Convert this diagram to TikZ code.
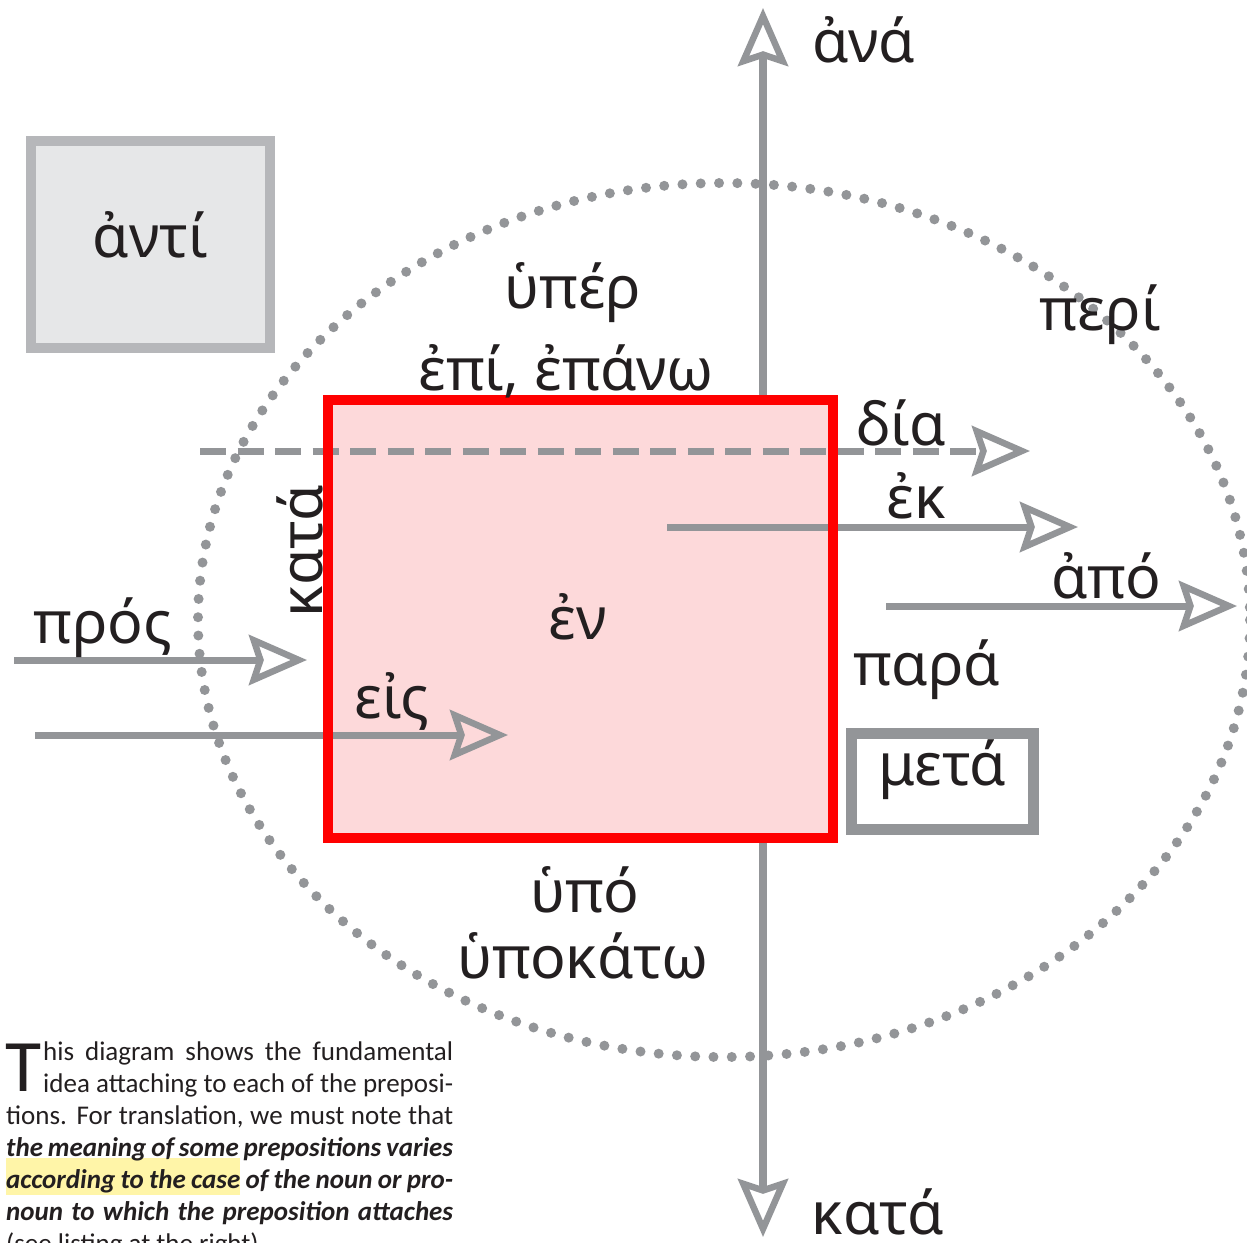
\documentclass[tikz,border=0pt]{standalone}
\usepackage{fontspec}
\setmainfont{Carlito}
\newfontfamily\greekfont{Noto Sans}
\usetikzlibrary{arrows.meta}

\definecolor{gry}{HTML}{939598}
\definecolor{boxedge}{HTML}{B6B7BA}
\definecolor{boxfill}{HTML}{E6E7E8}
\definecolor{pinkfill}{HTML}{FDD9DA}
\definecolor{inkred}{HTML}{FF0000}
\definecolor{ink}{HTML}{231F20}
\definecolor{hilite}{HTML}{FFF5A8}

\tikzset{
  opentip/.tip={Stealth[open, length=58pt, width=50pt, inset=8pt, line width=6.5pt]},
  axisline/.style={draw=gry, line width=7.5pt, {opentip}-{opentip}},
  arrowline/.style={draw=gry, line width=7pt, -{opentip}},
  dashline/.style={arrowline, dash pattern=on 26pt off 11.5pt},
  dotring/.style={draw=gry, line width=10pt, line cap=round, dash pattern=on 0pt off 18.3pt},
  greek/.style={font=\greekfont\fontsize{59}{64}\selectfont, text=ink, inner sep=0pt},
  body/.style={font=\fontsize{27}{32}\selectfont, text=ink, inner sep=0pt, anchor=base west},
  bodybi/.style={body, font=\fontsize{27}{32}\selectfont\bfseries\itshape},
}

\begin{document}
\begin{tikzpicture}[x=1pt, y=-1pt]
\useasboundingbox (0,0) rectangle (1247,1242);
\clip (0,0) rectangle (1247,1242);

% dotted ring
\draw[dotring] (724,620) ellipse [x radius=526, y radius=437];

% vertical axis: ana / kata
\coordinate (up) at (763,8);
\coordinate (down) at (763,1237);
\draw[axisline] (down) -- (up);

% the central square (fill first, border later)
\node[fill=pinkfill, minimum width=505pt, minimum height=438pt, inner sep=0pt] (sq) at (580.5,619) {};

% horizontal movements
\coordinate (diaS) at (200,451);  \coordinate (diaE) at (1030,451);
\coordinate (ekS) at (667,527);   \coordinate (ekE) at (1078,527);
\coordinate (apoS) at (886,606);  \coordinate (apoE) at (1237,606);
\coordinate (prosS) at (14,660);  \coordinate (prosE) at (307,660);
\coordinate (eisS) at (35,735);   \coordinate (eisE) at (508,735);
\draw[dashline] (diaS) -- (diaE);
\draw[arrowline] (ekS) -- (ekE);
\draw[arrowline] (apoS) -- (apoE);
\draw[arrowline] (prosS) -- (prosE);
\draw[arrowline] (eisS) -- (eisE);

% red border of the square
\draw[draw=inkred, line width=10pt] (sq.north west) rectangle (sq.south east);

% boxed prepositions
\node[greek, draw=boxedge, fill=boxfill, line width=10pt, minimum width=239pt, minimum height=207pt,
      text height=40pt, text depth=15pt] (anti) at (150.5,244.5) {ἀντί};
\node[greek, draw=gry, fill=white, line width=11pt, minimum width=182pt, minimum height=96pt,
      text height=45pt, text depth=37pt] (meta) at (942.5,781) {μετά};

% labels
\node[greek, anchor=base] (ana) at (864,62) {ἀνά};
\node[greek, anchor=base] (hyper) at (573,308) {ὑπέρ};
\node[greek, anchor=base] (epi) at (566,390) {ἐπί, ἐπάνω};
\node[greek, anchor=base] (peri) at (1100,330) {περί};
\node[greek, anchor=base] (dia) at (901,445) {δία};
\node[greek, anchor=base] (ek) at (916,518) {ἐκ};
\node[greek, anchor=base] (apo) at (1106,598) {ἀπό};
\node[greek, anchor=base] (para) at (927,685) {παρά};
\node[greek, anchor=base, rotate=90] (kataL) at (322,551) {κατά};
\node[greek, anchor=base] (pros) at (103,643) {πρός};
\node[greek, anchor=base] (eis) at (392,718) {εἰς};
\node[greek, anchor=base] (en) at (578,639) {ἐν};
\node[greek, anchor=base] (hypo) at (585,912) {ὑπό};
\node[greek, anchor=base] (hypokato) at (583,978) {ὑποκάτω};
\node[greek, anchor=base] (kataB) at (878,1234) {κατά};

% caption
\fill[hilite] (6,1158) rectangle (240,1195);
\node[body, font=\fontsize{74}{74}\selectfont] (dropT) at (5,1091) {T};
\node[body] (l1) at (43,1060) {\makebox[410pt][s]{his diagram shows the fundamental}};
\node[body] (l2) at (43,1092) {\makebox[410pt][s]{idea attaching to each of the preposi-}};
\node[body] (l3) at (6,1124) {\makebox[447pt][s]{tions. For translation, we must note that}};
\node[bodybi] (l4) at (6,1156) {\makebox[447pt][s]{the meaning of some prepositions varies}};
\node[bodybi] (l5) at (6,1188) {\makebox[447pt][s]{according to the case of the noun or pro-}};
\node[bodybi] (l6) at (6,1220) {\makebox[447pt][s]{noun to which the preposition attaches}};
\node[body] (l7) at (6,1252) {(see listing at the right).};
\end{tikzpicture}
\end{document}
